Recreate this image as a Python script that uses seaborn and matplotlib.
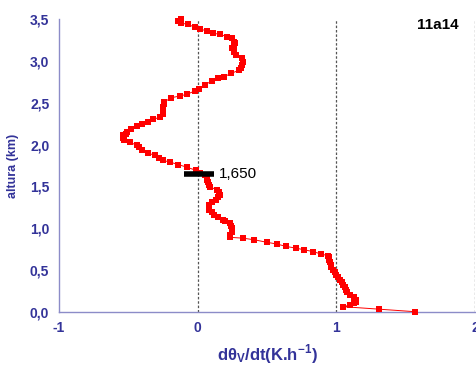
import pandas as pd
import seaborn as sns
import matplotlib.pyplot as plt
from matplotlib.ticker import FuncFormatter

# Profile of d(theta_v)/dt against height
altura = [0.00, 0.03, 0.06, 0.08, 0.10, 0.12, 0.14, 0.17, 0.20, 0.23,
          0.26, 0.29, 0.32, 0.35, 0.38, 0.41, 0.44, 0.47, 0.50, 0.53,
          0.56, 0.59, 0.62, 0.65, 0.67, 0.69, 0.72, 0.74, 0.76, 0.78,
          0.81, 0.83, 0.86, 0.88, 0.89, 0.92, 0.95, 0.98, 1.00, 1.03,
          1.06, 1.08, 1.10, 1.13, 1.16, 1.19, 1.22, 1.25, 1.28, 1.31,
          1.34, 1.37, 1.40, 1.43, 1.46, 1.49, 1.52, 1.55, 1.58, 1.61,
          1.64, 1.66, 1.69, 1.73, 1.76, 1.79, 1.81, 1.84, 1.87, 1.90,
          1.94, 1.97, 1.99, 2.03, 2.06, 2.08, 2.11, 2.13, 2.15, 2.19,
          2.22, 2.24, 2.27, 2.30, 2.33, 2.36, 2.39, 2.42, 2.45, 2.48,
          2.51, 2.56, 2.58, 2.60, 2.64, 2.67, 2.71, 2.76, 2.79, 2.81,
          2.85, 2.89, 2.92, 2.95, 2.99, 3.03, 3.07, 3.11, 3.15, 3.18,
          3.21, 3.23, 3.27, 3.29, 3.32, 3.33, 3.36, 3.38, 3.40, 3.44,
          3.45, 3.48, 3.50]
dthv = [1.567, 1.31, 1.05, 1.10, 1.13, 1.14, 1.14, 1.13, 1.10, 1.08,
        1.07, 1.06, 1.05, 1.04, 1.025, 1.01, 1.00, 0.99, 0.975, 0.965,
        0.96, 0.955, 0.95, 0.945, 0.94, 0.89, 0.83, 0.77, 0.71, 0.64,
        0.57, 0.50, 0.41, 0.325, 0.23, 0.235, 0.245, 0.25, 0.25, 0.24,
        0.23, 0.20, 0.18, 0.15, 0.12, 0.10, 0.08, 0.08, 0.085, 0.10,
        0.13, 0.15, 0.16, 0.155, 0.14, 0.09, 0.08, 0.075, 0.07, 0.065,
        0.05, 0.02, -0.01, -0.08, -0.14, -0.20, -0.25, -0.28, -0.31, -0.36,
        -0.40, -0.42, -0.44, -0.49, -0.53, -0.54, -0.54, -0.52, -0.51, -0.48,
        -0.44, -0.40, -0.36, -0.32, -0.27, -0.25, -0.25, -0.25, -0.25, -0.245,
        -0.24, -0.19, -0.13, -0.08, -0.02, 0.01, 0.05, 0.10, 0.15, 0.19,
        0.24, 0.30, 0.31, 0.32, 0.33, 0.32, 0.28, 0.26, 0.25, 0.26,
        0.27, 0.26, 0.245, 0.21, 0.16, 0.11, 0.065, 0.02, -0.02, -0.07,
        -0.12, -0.14, -0.12]

# mixed layer top marker
h_marker = 1.65
marker_x = [-0.095, 0.115]
marker_label = "1,650"
panel_label = "11a14"
ref_lines = [0, 1, 2]

df = pd.DataFrame({"altura": altura, "dthv": dthv})

sns.set_style("white")
plt.rcParams['font.family'] = ['Liberation Sans', 'DejaVu Sans']
plt.rcParams['mathtext.fontset'] = 'custom'
plt.rcParams['mathtext.rm'] = 'Liberation Sans'
plt.rcParams['mathtext.bf'] = 'Liberation Sans:bold'
plt.rcParams['axes.unicode_minus'] = False

navy = '#333399'
spine_col = '#8c8cc8'

fig = plt.figure(figsize=(4.77, 3.68), dpi=100)
ax = fig.add_axes([0.1237, 0.153, 0.872, 0.795])

for xv in ref_lines:
    ax.plot([xv, xv], [0, 3.5], ls=(0, (2, 1.5)), color='#555555', lw=0.9, zorder=1)

sns.lineplot(data=df, x="dthv", y="altura", sort=False, estimator=None,
             color='red', lw=0.7, marker='s', markersize=5,
             markeredgewidth=0, ax=ax, zorder=3, clip_on=False)

ax.plot(marker_x, [h_marker, h_marker], color='black', lw=4, solid_capstyle='butt', zorder=4)
ax.text(marker_x[1] + 0.04, h_marker, marker_label, fontsize=11, color='black',
        va='center', ha='left')
ax.text(1.73, 3.43, panel_label, fontsize=11, fontweight='bold', color='black',
        ha='center', va='center')

ax.set_xlim(-1, 2)
ax.set_ylim(0, 3.5)
ax.set_xticks([-1, 0, 1, 2])
ax.set_yticks([0, 0.5, 1.0, 1.5, 2.0, 2.5, 3.0, 3.5])
ax.yaxis.set_major_formatter(FuncFormatter(lambda v, p: f"{v:.1f}".replace('.', ',')))

for s in ['top', 'right']:
    ax.spines[s].set_visible(False)
for s in ['left', 'bottom']:
    ax.spines[s].set_color(spine_col)
    ax.spines[s].set_linewidth(1.0)

ax.tick_params(axis='both', direction='out', length=4, width=1, color=spine_col,
               labelcolor=navy, labelsize=10, pad=3)
for lab in ax.get_xticklabels() + ax.get_yticklabels():
    lab.set_fontweight('bold')

ax.set_ylabel("altura (km)", fontsize=9, fontweight='bold', color=navy, labelpad=8)
ax.set_xlabel(r"d$\mathbf{\theta_V}$/dt(K.h$^{\mathbf{-1}}$)", fontsize=12,
              fontweight='bold', color=navy, labelpad=5)

fig.savefig("out.png", dpi=100)
